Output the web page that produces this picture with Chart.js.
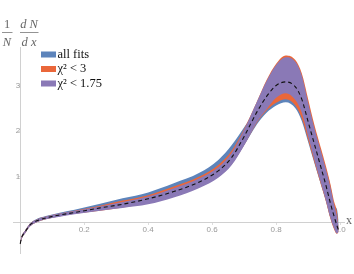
<!DOCTYPE html>
<html lang="en">

<head>
  <meta charset="UTF-8">
  <title>1/N dN/dx</title>
  <script src="https://cdn.jsdelivr.net/npm/chart.js"></script>
  <style>
    html, body { margin: 0; padding: 0; background: #fff; }
  </style>
</head>

<body>
  <canvas id="distChart" width="354" height="274"></canvas>
  <script>
    // x grid shared by all curves
    const xs = [0, 0.005, 0.015, 0.03, 0.05, 0.08, 0.12, 0.17, 0.25, 0.32, 0.4, 0.48, 0.56, 0.62, 0.66,
      0.7, 0.74, 0.77, 0.8, 0.83, 0.86, 0.88, 0.9, 0.92, 0.94, 0.955, 0.97, 0.98, 0.99, 0.995];

    // dashed central curve
    const central = [-0.48, -0.33, -0.22, -0.07, 0.02, 0.09, 0.15, 0.21, 0.31, 0.39, 0.51, 0.67, 0.88, 1.13, 1.41,
      1.88, 2.42, 2.76, 3.00, 3.08, 2.97, 2.70, 2.20, 1.70, 1.20, 0.82, 0.40, 0.15, -0.08, -0.18];

    // all fits band
    const allLo = [-0.50, -0.36, -0.25, -0.10, -0.01, 0.06, 0.12, 0.18, 0.26, 0.34, 0.45, 0.60, 0.81, 1.04, 1.28,
      1.69, 2.15, 2.40, 2.56, 2.63, 2.50, 2.22, 1.76, 1.28, 0.82, 0.48, 0.08, -0.12, -0.22, -0.20];
    const allHi = [-0.45, -0.30, -0.19, -0.04, 0.06, 0.13, 0.20, 0.27, 0.40, 0.52, 0.65, 0.85, 1.08, 1.37, 1.68,
      2.08, 2.55, 3.00, 3.40, 3.58, 3.48, 3.18, 2.58, 2.02, 1.55, 1.18, 0.78, 0.38, 0.28, 0.05];

    // chi2 < 3 band
    const chi3Lo = [-0.50, -0.36, -0.25, -0.10, -0.01, 0.06, 0.12, 0.18, 0.25, 0.32, 0.41, 0.56, 0.77, 1.00, 1.26,
      1.69, 2.18, 2.45, 2.62, 2.70, 2.56, 2.28, 1.80, 1.30, 0.82, 0.46, 0.06, -0.14, -0.26, -0.22];
    const chi3Hi = [-0.45, -0.30, -0.19, -0.04, 0.05, 0.12, 0.18, 0.25, 0.36, 0.47, 0.59, 0.78, 1.00, 1.26, 1.56,
      2.05, 2.65, 3.12, 3.48, 3.66, 3.56, 3.27, 2.70, 2.12, 1.62, 1.24, 0.82, 0.48, 0.22, -0.10];

    // chi2 < 1.75 band
    const chi175Lo = [-0.50, -0.36, -0.25, -0.10, -0.01, 0.06, 0.11, 0.17, 0.25, 0.31, 0.39, 0.54, 0.75, 0.98, 1.24,
      1.68, 2.20, 2.48, 2.73, 2.83, 2.68, 2.40, 1.88, 1.35, 0.85, 0.48, 0.08, -0.12, -0.25, -0.22];
    const chi175Hi = [-0.45, -0.30, -0.19, -0.04, 0.05, 0.12, 0.18, 0.24, 0.34, 0.44, 0.56, 0.74, 0.96, 1.21, 1.51,
      2.03, 2.65, 3.10, 3.45, 3.62, 3.52, 3.22, 2.62, 2.05, 1.55, 1.17, 0.75, 0.42, 0.12, -0.12];

    const xTicks = [0.2, 0.4, 0.6, 0.8, 1.0];
    const yTicks = [1, 2, 3];
    const legendLabels = ['all fits', 'χ² < 3', 'χ² < 1.75'];
    const bandColors = ['#5d84bb', '#ea673a', '#8a79b6'];

    const pts = arr => xs.map((x, i) => ({ x: x, y: arr[i] }));

    function band(lo, hi, color, order) {
      const common = { borderWidth: 0, pointRadius: 0, cubicInterpolationMode: 'monotone', order: order };
      return [
        Object.assign({ data: pts(lo), fill: false }, common),
        Object.assign({ data: pts(hi), fill: '-1', backgroundColor: color }, common)
      ];
    }

    // Подписи: дробь 1/N dN/dx, метка оси x и легенда
    const extras = {
      id: 'extras',
      afterDatasetsDraw(chart) {
        const ctx = chart.ctx;
        ctx.save();
        // legend
        ctx.font = '12.5px "Liberation Serif"';
        ctx.textBaseline = 'middle';
        ctx.textAlign = 'left';
        legendLabels.forEach((label, i) => {
          const y = 54.5 + i * 14.5;
          ctx.fillStyle = bandColors[i];
          ctx.fillRect(41, y - 3, 15, 6);
          ctx.fillStyle = '#111';
          ctx.fillText(label, 57.5, y);
        });

        // fraction title
        ctx.fillStyle = '#666';
        ctx.strokeStyle = '#777';
        ctx.lineWidth = 0.8;
        ctx.textAlign = 'center';
        ctx.font = '12.5px "Liberation Serif"';
        ctx.fillText('1', 7, 25);
        ctx.font = 'italic 12.5px "Liberation Serif"';
        ctx.fillText('N', 7, 43);
        ctx.fillText('d N', 29, 25);
        ctx.fillText('d x', 29, 43);
        ctx.beginPath();
        ctx.moveTo(2, 32.5); ctx.lineTo(12.5, 32.5);
        ctx.moveTo(20, 32.5); ctx.lineTo(38.5, 32.5);
        ctx.stroke();

        // x axis label
        ctx.textAlign = 'left';
        ctx.font = '12px "Liberation Serif"';
        ctx.fillText('x', 346, 221);
        ctx.restore();
      }
    };

    const ctx = document.getElementById('distChart').getContext('2d');

    new Chart(ctx, {
      type: 'line',
      data: {
        datasets: [
          ...band(allLo, allHi, bandColors[0], 3),
          ...band(chi3Lo, chi3Hi, bandColors[1], 2),
          ...band(chi175Lo, chi175Hi, bandColors[2], 1),
          {
            data: pts(central),
            borderColor: '#111',
            borderWidth: 1.1,
            borderDash: [4, 3],
            pointRadius: 0,
            fill: false,
            cubicInterpolationMode: 'monotone',
            order: 0
          }
        ]
      },
      options: {
        responsive: false,
        animation: false,
        layout: { padding: { left: 13, right: 10, top: 47, bottom: 21 } },
        plugins: { legend: { display: false }, tooltip: { enabled: false } },
        scales: {
          x: {
            type: 'linear',
            min: -0.0225,
            max: 1.012,
            position: { y: 0 },
            border: { color: '#d0d0d0' },
            grid: { drawOnChartArea: false, tickLength: 2, color: '#ddd' },
            ticks: {
              color: '#999',
              font: { family: 'Liberation Sans', size: 8 },
              padding: 1,
              maxRotation: 0,
              callback: v => v.toFixed(1)
            },
            afterBuildTicks: s => { s.ticks = xTicks.map(v => ({ value: v })); }
          },
          y: {
            type: 'linear',
            min: -0.681,
            max: 3.846,
            position: { x: 0 },
            border: { color: '#d0d0d0' },
            grid: { drawOnChartArea: false, tickLength: 2, color: '#ddd' },
            ticks: {
              color: '#999',
              font: { family: 'Liberation Sans', size: 8 },
              padding: 1,
              callback: v => String(v)
            },
            afterBuildTicks: s => { s.ticks = yTicks.map(v => ({ value: v })); }
          }
        }
      },
      plugins: [extras]
    });
  </script>
</body>

</html>
